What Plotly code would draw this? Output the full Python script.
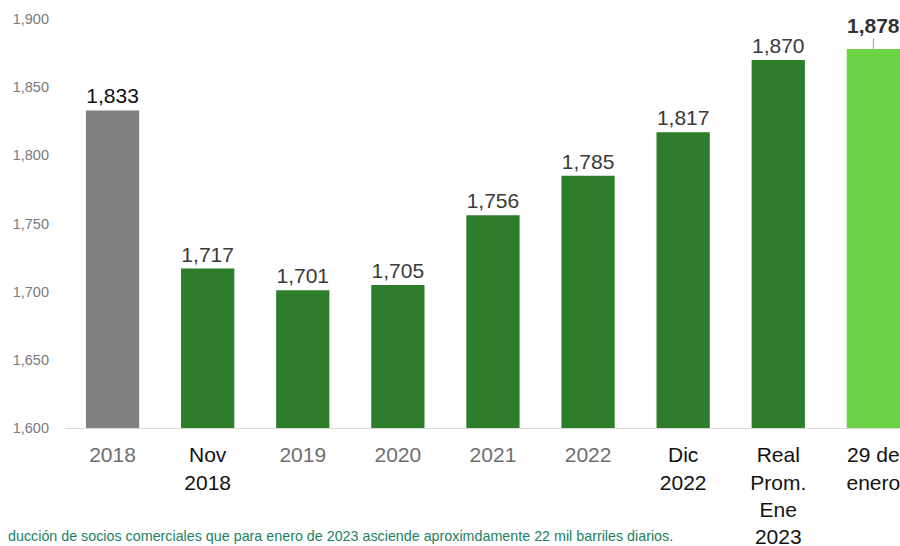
import plotly.graph_objects as go

# Categories, values and per-bar styling
categories = ["2018", "Nov 2018", "2019", "2020", "2021", "2022", "Dic 2022",
              "Real Prom. Ene 2023", "29 de enero"]
tick_labels = ["2018", "Nov<br>2018", "2019", "2020", "2021", "2022",
               "Dic<br>2022", "Real<br>Prom.<br>Ene<br>2023", "29 de<br>enero"]
tick_colors = ["#6e6e6e", "#111111", "#6e6e6e", "#6e6e6e", "#6e6e6e",
               "#6e6e6e", "#111111", "#111111", "#111111"]
values = [1833, 1717, 1701, 1705, 1756, 1785, 1817, 1870, 1878]
bar_colors = ["#808080"] + ["#2e7d2b"] * 7 + ["#6bd346"]
label_colors = ["#111111"] + ["#3a3a3a"] * 7 + ["#222222"]
y_ticks = [1600, 1650, 1700, 1750, 1800, 1850, 1900]

x_idx = list(range(len(categories)))
bar_text = [f"{v:,}" for v in values[:-1]] + [""]

fig = go.Figure()
fig.add_trace(go.Bar(
    x=x_idx,
    y=values,
    marker=dict(color=bar_colors, line=dict(width=0)),
    text=bar_text,
    textposition="outside",
    cliponaxis=False,
    textfont=dict(family="Liberation Sans, Arial, sans-serif", size=21,
                  color=label_colors),
    width=0.56,
    hoverinfo="skip",
))

# Highlighted label for the last bar with a short leader line
fig.add_annotation(
    x=x_idx[-1], y=values[-1], xref="x", yref="y",
    text=f"<b>{values[-1]:,}</b>",
    showarrow=True, arrowhead=0, arrowwidth=1, arrowcolor="#a0a0a0",
    ax=0, ay=-24, standoff=0,
    font=dict(family="Liberation Sans, Arial, sans-serif", size=21,
              color="#333333"),
)

# Footnote
fig.add_annotation(
    x=0.7305, y=-0.253, xref="paper", yref="paper",
    xanchor="right", yanchor="middle",
    text="ducción de socios comerciales que para enero de 2023 asciende "
         "aproximdamente 22 mil barriles diarios.",
    showarrow=False,
    font=dict(family="Liberation Sans, Arial, sans-serif", size=14.3,
              color="#1d8064"),
)

fig.update_layout(
    width=900, height=546,
    margin=dict(l=65, r=0, t=0, b=117.5, autoexpand=False),
    paper_bgcolor="white", plot_bgcolor="white",
    showlegend=False,
    bargap=0.44,
    xaxis=dict(
        range=[-0.5, 8.28],
        tickmode="array",
        tickvals=x_idx,
        ticktext=[f'<span style="color:{c}">{t}</span>'
                  for t, c in zip(tick_labels, tick_colors)],
        tickfont=dict(family="Liberation Sans, Arial, sans-serif", size=21),
        showline=True, linecolor="#d9d9d9", linewidth=1,
        showgrid=False, zeroline=False, ticks="",
        ticklabelstandoff=8,
        ticklabeloverflow="allow",
        automargin=False,
    ),
    yaxis=dict(
        range=[1600, 1914],
        tickmode="array",
        tickvals=y_ticks,
        ticktext=[f"{v:,}" for v in y_ticks],
        tickfont=dict(family="Liberation Sans, Arial, sans-serif", size=14.5,
                      color="#7a7a7a"),
        showgrid=False, zeroline=False, showline=False, ticks="",
        ticklabelstandoff=15,
        automargin=False,
    ),
)

fig.write_html("out.html")
